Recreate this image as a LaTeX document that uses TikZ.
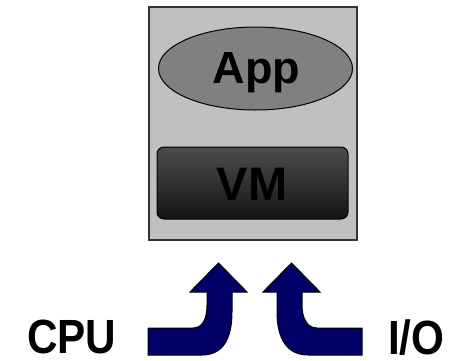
\documentclass[tikz,border=0pt]{standalone}
\usepackage{fontspec}
\setmainfont{Liberation Sans}
\usetikzlibrary{shapes.geometric}
\definecolor{boxgray}{HTML}{C0C0C0}
\definecolor{ellgray}{HTML}{808080}
\definecolor{navy}{HTML}{000066}
\begin{document}
\begin{tikzpicture}[x=1pt,y=-1pt,
  lbl/.style={font=\fontsize{45}{45}\selectfont\bfseries, text=black, inner sep=0pt, anchor=base},
  biglbl/.style={font=\fontsize{48}{48}\selectfont\bfseries, text=black, inner sep=0pt, xscale=0.88, text depth=0pt},
  arr/.style={draw=black, line width=1pt, fill=navy, line join=miter}]
\useasboundingbox (0,0) rectangle (452,360);
\node[draw=black!80, line width=1.2pt, fill=boxgray, minimum width=208pt, minimum height=233pt, inner sep=0pt] (host) at (253,123.5) {};
\node[ellipse, draw=black, line width=1pt, fill=ellgray, minimum width=194pt, minimum height=83pt, inner sep=0pt] (app) at (255.5,68.5) {};
\node[lbl] (applbl) at (256.4,83.3) {App};
\node[draw=black, line width=1pt, rounded corners=7pt, top color=black!70, bottom color=black!92, minimum width=191pt, minimum height=72pt, inner sep=0pt] (vm) at (252.5,183) {};
\node[lbl, font=\fontsize{47}{47}\selectfont\bfseries] (vmlbl) at (252,200) {VM};
\node[biglbl, anchor=base west] (cpu) at (27,353) {CPU};
\node[biglbl, anchor=base west] (io) at (388,354) {I/O};
% CPU arrow
\draw[arr] (148,328) -- (193,328) .. controls (203,328) and (207,318) .. (207,305) -- (207,292) -- (190,292) -- (218.5,263) -- (247,292) -- (232,292) -- (232,312) .. controls (232,340) and (222,355) .. (202,355) -- (148,355) -- cycle;
% I/O arrow
\draw[arr] (362,328) -- (317,328) .. controls (307,328) and (302,318) .. (302,305) -- (302,292) -- (320,292) -- (291.5,263) -- (263,292) -- (277,292) -- (277,312) .. controls (277,340) and (288,355) .. (308,355) -- (362,355) -- cycle;
\end{tikzpicture}
\end{document}
